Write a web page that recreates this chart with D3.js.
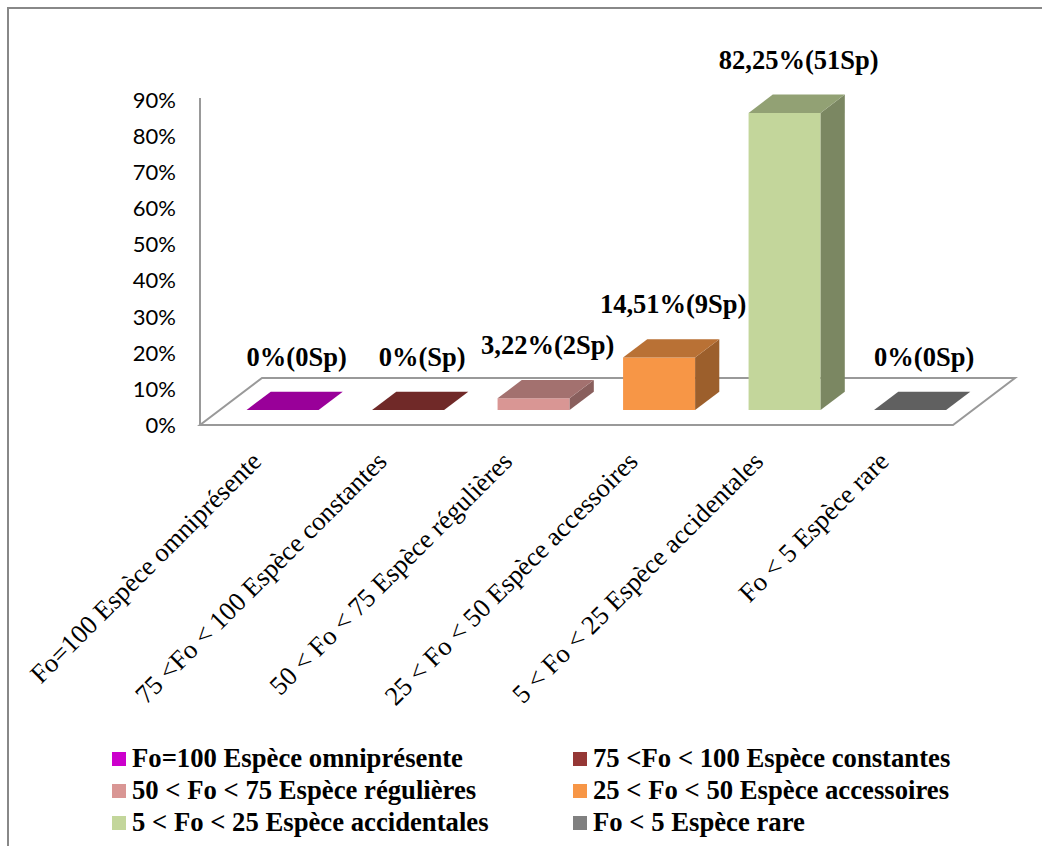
<!DOCTYPE html>
<html>
<head>
<meta charset="utf-8">
<script src="https://cdn.jsdelivr.net/npm/d3@7"></script>
<style>
  html, body { margin: 0; padding: 0; background: #fff; }
  svg { display: block; }
</style>
</head>
<body>
<svg id="chart" width="1042" height="846"></svg>
<script>
// Frequency-of-occurrence classes
const categories = [
  "Fo=100 Espèce omniprésente",
  "75 <Fo < 100 Espèce constantes",
  "50 < Fo < 75 Espèce régulières",
  "25 < Fo < 50 Espèce accessoires",
  "5 < Fo < 25 Espèce accidentales",
  "Fo < 5 Espèce rare"
];
// Share of species in each class
const values = [0, 0, 0.0322, 0.1451, 0.8225, 0];
// Species counts shown in the labels ("" where none is given)
const speciesCounts = ["0", "", "2", "9", "51", "0"];
// Axis ticks
const yTicks = [0, 0.1, 0.2, 0.3, 0.4, 0.5, 0.6, 0.7, 0.8, 0.9];
// Series colours
const colors = ["#CC00CC", "#953735", "#D99694", "#F79646", "#C3D69B", "#808080"];

const svg = d3.select("#chart");

// Outer frame
svg.append("path")
  .attr("d", "M8,846 L8,8 L1042,8")
  .attr("fill", "none")
  .attr("stroke", "#888")
  .attr("stroke-width", 2);

// Front plane of the 3-D plot
const x = d3.scaleBand()
  .domain(categories)
  .range([200, 953])
  .paddingInner(0.426)
  .paddingOuter(0.213);
const y = d3.scaleLinear().domain([0, 0.9]).range([425, 100]);

// Depth direction of the floor, and where the bars sit within it
const depth = { dx: 62, dy: -47 };
const t1 = 0.32, t2 = 0.71;
const off = t => [depth.dx * t, depth.dy * t];

// Floor
const base = y(0);
const [fx, fy] = off(1);
svg.append("path")
  .attr("d", `M${x.range()[0]},${base} L${x.range()[1]},${base} L${x.range()[1] + fx},${base + fy} L${x.range()[0] + fx},${base + fy} Z`)
  .attr("fill", "#fff")
  .attr("stroke", "#999")
  .attr("stroke-width", 2);

// Vertical axis line
svg.append("line")
  .attr("x1", 200).attr("x2", 200)
  .attr("y1", y(0.9) - 2).attr("y2", base)
  .attr("stroke", "#999")
  .attr("stroke-width", 2);

// Y tick labels
svg.append("g")
  .selectAll("text")
  .data(yTicks)
  .join("text")
  .attr("x", 176)
  .attr("y", d => y(d))
  .attr("dy", "0.36em")
  .attr("text-anchor", "end")
  .attr("font-family", "Lato, 'Open Sans', sans-serif")
  .attr("font-size", 22)
  .attr("fill", "#000")
  .text(d => d3.format(".0%")(d));

function shade(c, k) {
  const r = d3.rgb(c);
  return d3.rgb(r.r * k, r.g * k, r.b * k).formatHex();
}

// 3-D bars
const bars = svg.append("g");
categories.forEach((cat, i) => {
  const v = values[i];
  const [ax, ay] = off(t1);
  const [bx, by] = off(t2);
  const x0 = x(cat) + ax, x1 = x0 + x.bandwidth();
  const yb = y(0) + ay, yt = y(v) + ay;
  const ddx = bx - ax, ddy = by - ay;
  const g = bars.append("g");
  if (yb - yt > 0.5) {
    g.append("path")
      .attr("d", `M${x0},${yt} L${x1},${yt} L${x1},${yb} L${x0},${yb} Z`)
      .attr("fill", colors[i]);
    g.append("path")
      .attr("d", `M${x1},${yt} L${x1 + ddx},${yt + ddy} L${x1 + ddx},${yb + ddy} L${x1},${yb} Z`)
      .attr("fill", shade(colors[i], 0.63));
  }
  g.append("path")
    .attr("d", `M${x0},${yt} L${x1},${yt} L${x1 + ddx},${yt + ddy} L${x0 + ddx},${yt + ddy} Z`)
    .attr("fill", shade(colors[i], 0.75));
});

// Value labels
const pct = v => (Math.round(v * 10000) / 100).toString().replace(".", ",") + "%";
svg.append("g")
  .selectAll("text")
  .data(categories)
  .join("text")
  .attr("x", d => x(d) + x.bandwidth() / 2 + off((t1 + t2) / 2)[0] + 2)
  .attr("y", (d, i) => y(values[i]) + off(t2)[1] - 26)
  .attr("text-anchor", "middle")
  .attr("font-family", "'Liberation Serif', 'Times New Roman', serif")
  .attr("font-weight", "bold")
  .attr("font-size", 26.5)
  .attr("fill", "#000")
  .text((d, i) => `${pct(values[i])}(${speciesCounts[i]}Sp)`);

// Category labels, rotated
svg.append("g")
  .selectAll("text")
  .data(categories)
  .join("text")
  .attr("transform", d => `translate(${x(d) + x.bandwidth() / 2},${463}) rotate(-45)`)
  .attr("text-anchor", "end")
  .attr("font-family", "'Liberation Serif', 'Times New Roman', serif")
  .attr("font-size", 26.5)
  .attr("fill", "#000")
  .text(d => d);

// Legend: two columns, three rows
const legendCols = [112, 573];
const legendRows = [767, 799, 831];
const legend = svg.append("g")
  .selectAll("g")
  .data(categories)
  .join("g")
  .attr("transform", (d, i) => `translate(${legendCols[i % 2]},${legendRows[Math.floor(i / 2)]})`);
legend.append("rect")
  .attr("x", 0).attr("y", -15)
  .attr("width", 14).attr("height", 14)
  .attr("fill", (d, i) => colors[i]);
legend.append("text")
  .attr("x", 20).attr("y", 0)
  .attr("font-family", "'Liberation Serif', 'Times New Roman', serif")
  .attr("font-weight", "bold")
  .attr("font-size", 26.7)
  .attr("fill", "#000")
  .text(d => d);
</script>
</body>
</html>
